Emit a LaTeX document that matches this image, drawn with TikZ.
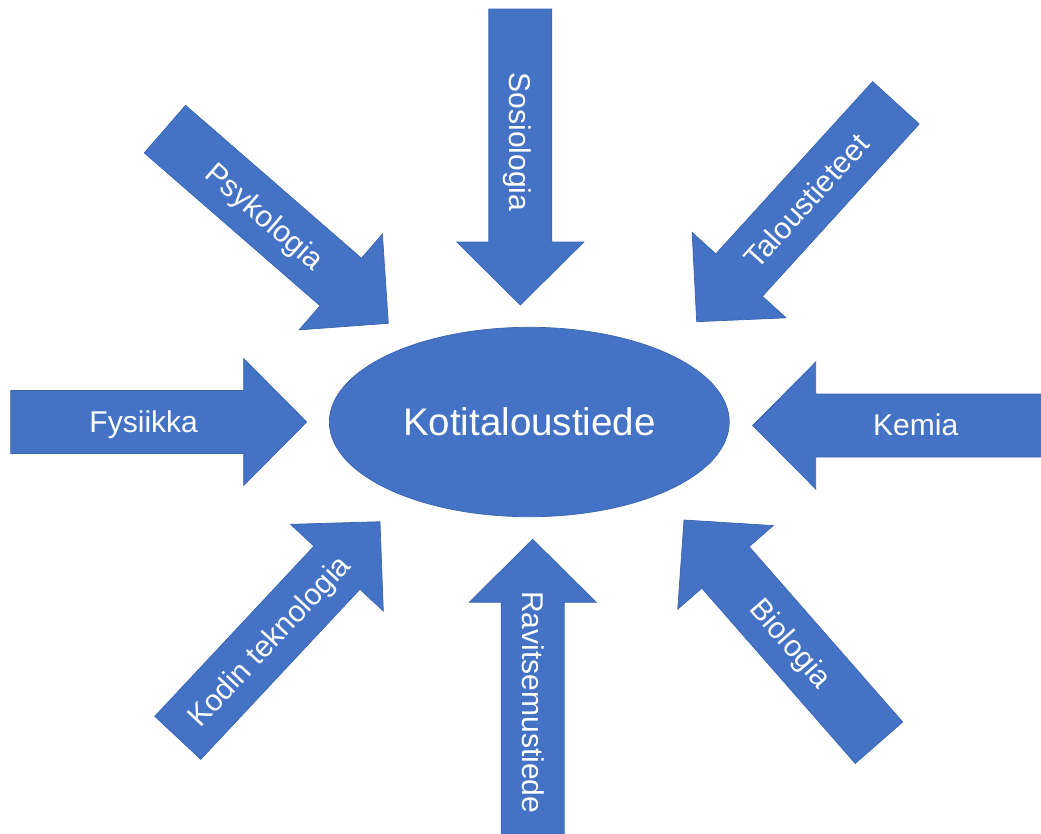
\documentclass[tikz,border=0pt]{standalone}
\usepackage{fontspec}
\setmainfont{Liberation Sans}
\usetikzlibrary{shapes.geometric}
\definecolor{officeblue}{HTML}{4472C4}
\definecolor{officeedge}{HTML}{3B65B0}
\tikzset{
  subject/.style={fill=officeblue, draw=officeedge, line width=0.4pt},
  subjecttext/.style={text=white, inner sep=0pt, text height=15.5pt, text depth=3.6pt,
    font=\fontsize{17.1}{20}\selectfont},
  centre/.style={ellipse, fill=officeblue, draw=officeedge, line width=0.4pt,
    minimum width=8cm, minimum height=3.79cm, inner sep=0pt, text=white,
    text height=19.8pt, text depth=4.6pt, font=\fontsize{21.9}{26}\selectfont},
}
% #1 name, #2 tip, #3 arrow angle, #4 text angle, #5 text
\newcommand*{\subjectarrow}[5]{%
  \begin{scope}[shift={(#2)}, rotate=#3]
    \draw[subject] (0,0) -- (-63,-63.5) -- (-63,-31.5) -- (-296,-31.5)
      -- (-296,31.5) -- (-63,31.5) -- (-63,63.5) -- cycle;
    \node[subjecttext, rotate=#4] (#1) at (-163,0) {#5};
  \end{scope}}

\begin{document}
\begin{tikzpicture}[x=0.02cm, y=-0.02cm]
  \useasboundingbox (0,0) rectangle (1041,833);
  \clip (0,0) rectangle (1041,833);

  \node[centre] (home) at (529.3,422) {Kotitaloustiede};

  \coordinate (psy tip) at (388.3,323.3);
  \coordinate (sos tip) at (520.3,305);
  \coordinate (tal tip) at (696.7,321.7);
  \coordinate (fys tip) at (306.7,422);
  \coordinate (kem tip) at (752.7,425.5);
  \coordinate (kod tip) at (380,521.7);
  \coordinate (rav tip) at (532.7,539.3);
  \coordinate (bio tip) at (684,520);

  \subjectarrow{psy}{psy tip}{-41}{-41}{Psykologia}
  \subjectarrow{sos}{sos tip}{-90}{-90}{Sosiologia}
  \subjectarrow{tal}{tal tip}{-132.3}{47.7}{Taloustieteet}
  \subjectarrow{fys}{fys tip}{0}{0}{Fysiikka}
  \subjectarrow{kem}{kem tip}{180}{0}{Kemia}
  \subjectarrow{kod}{kod tip}{46.9}{46.9}{Kodin teknologia}
  \subjectarrow{rav}{rav tip}{90}{-90}{Ravitsemustiede}
  \subjectarrow{bio}{bio tip}{131.2}{-48.8}{Biologia}
\end{tikzpicture}
\end{document}
